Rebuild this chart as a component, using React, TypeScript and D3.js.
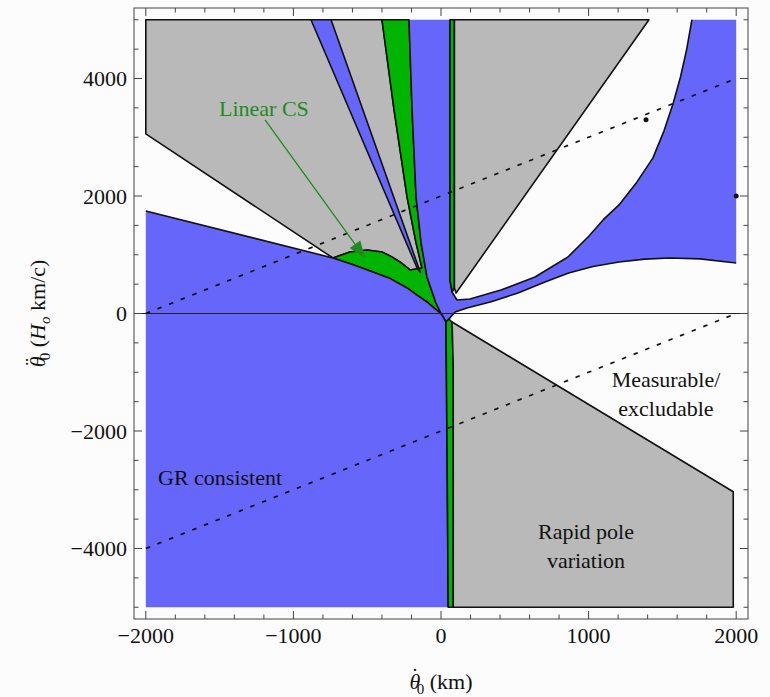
import React from 'react';
import * as d3 from 'd3';

type Pt = [number, number];

// region outlines (x: theta-dot in km, y: theta-ddot in Ho km/c)
const grayUpperLeft: Pt[] = [
  [-2000, 5000], [-400, 5000], [-318, 3467], [-230, 1985], [-169, 1201], [-129, 775],
  [-210, 741], [-278, 877], [-330, 960], [-400, 1048], [-501, 1082], [-617, 1048], [-732, 945], [-2000, 3058],
];

const greenBandBump: Pt[] = [
  [-400, 5000], [-217, 5000], [-196, 3467], [-169, 1985], [-135, 1201], [-95, 622], [-34, 179], [0, 0],
  [-40, 80], [-95, 196], [-160, 310], [-230, 435], [-340, 590], [-461, 707], [-600, 835], [-732, 945],
  [-617, 1048], [-501, 1082], [-400, 1048], [-330, 960], [-278, 877], [-210, 741], [-129, 775],
  [-169, 1201], [-230, 1985], [-318, 3467],
];

const blueWedge: Pt[] = [[-881, 5000], [-745, 5000], [-140, 700], [-162, 775]];

const blueColumnArm: Pt[] = [
  [-217, 5000], [61, 5000], [61, 570], [75, 366], [108, 230], [196, 247], [406, 400], [637, 622],
  [860, 962], [1003, 1320], [1098, 1593], [1206, 1848], [1328, 2240], [1436, 2649], [1511, 3109],
  [1572, 3569], [1623, 4029], [1664, 4489], [1700, 5000],
  [2000, 5000], [2000, 860], [1755, 930], [1551, 945], [1380, 925], [1206, 877], [1030, 800], [865, 690],
  [700, 530], [522, 349], [340, 200], [176, 94], [95, 26], [54, -94], [34, -145], [0, 0],
  [-34, 179], [-95, 622], [-135, 1201], [-169, 1985], [-196, 3467],
];

const greenThinTop: Pt[] = [[61, 5000], [91, 5000], [91, 434], [75, 366], [61, 570]];

const grayUpperRight: Pt[] = [[91, 5000], [1409, 5000], [102, 349], [91, 434]];

const blueLower: Pt[] = [
  [-2000, 1746], [-732, 945], [-600, 835], [-461, 707], [-340, 590], [-230, 435], [-160, 310], [-95, 196],
  [-40, 80], [0, 0], [34, -145], [34, -225], [41, -2325], [49, -5000], [-2000, -5000],
];

const greenThinLower: Pt[] = [
  [34, -145], [54, -94], [72, -140], [76, -225], [83, -908], [83, -5000], [49, -5000], [41, -2325], [34, -225],
];

const grayLowerRight: Pt[] = [[72, -140], [1980, -3035], [1980, -5000], [83, -5000], [83, -908], [76, -225]];

const guideLines: Pt[][] = [
  [[-2000, 0], [2000, 4000]],
  [[-2000, -4000], [2000, 0]],
];

const strayDots: Pt[] = [[1389, 3296], [2000, 2002]];

const arrowFrom: Pt = [-1192, 3296];
const arrowTo: Pt = [-515, 945];

const xMajor = [-2000, -1000, 0, 1000, 2000];
const yMajor = [-4000, -2000, 0, 2000, 4000];

const GRAY = '#b9b9b9';
const BLUE = '#6666fa';
const GREEN = '#00b400';
const TEXT_GREEN = '#1f8a1f';
const FONT = "'Liberation Serif', 'Times New Roman', serif";

const regions = [
  { pts: grayUpperLeft, fill: GRAY, open: false },
  { pts: greenBandBump, fill: GREEN, open: false },
  { pts: blueWedge, fill: BLUE, open: false },
  { pts: blueColumnArm, fill: BLUE, open: true },
  { pts: greenThinTop, fill: GREEN, open: false },
  { pts: grayUpperRight, fill: GRAY, open: false },
  { pts: blueLower, fill: BLUE, open: true },
  { pts: greenThinLower, fill: GREEN, open: false },
  { pts: grayLowerRight, fill: GRAY, open: false },
];

const fmt = (v: number) => (v < 0 ? `\u2212${Math.abs(v)}` : `${v}`);

export default function App() {
  const width = 770;
  const height = 697;

  const x = d3.scaleLinear().domain([-2080, 2080]).range([134, 748]);
  const y = d3.scaleLinear().domain([-5200, 5200]).range([619, 8]);

  const area = d3.line<Pt>().x(d => x(d[0])).y(d => y(d[1])).curve(d3.curveLinearClosed);
  const line = d3.line<Pt>().x(d => x(d[0])).y(d => y(d[1]));

  // blue areas have no outline where they touch the plot edge
  const onEdge = (a: Pt, b: Pt) =>
    (a[0] === b[0] && Math.abs(a[0]) >= 2000) || (a[1] === b[1] && Math.abs(a[1]) >= 5000);

  const outline = (pts: Pt[], open: boolean) => {
    if (!open) return area(pts) as string;
    let d = '';
    pts.forEach((p, i) => {
      const q = pts[(i + 1) % pts.length];
      if (onEdge(p, q)) return;
      d += `M${x(p[0])},${y(p[1])}L${x(q[0])},${y(q[1])}`;
    });
    return d;
  };

  const xMinor = d3.range(-2000, 2001, 200);
  const yMinor = d3.range(-5000, 5001, 500);
  const [x0, x1] = x.range();
  const [yb, yt] = y.range();

  // arrowhead
  const ax0 = x(arrowFrom[0]), ay0 = y(arrowFrom[1]);
  const ax1 = x(arrowTo[0]), ay1 = y(arrowTo[1]);
  const ang = Math.atan2(ay1 - ay0, ax1 - ax0);
  const hl = 17, hw = 6.5;
  const bx = ax1 - hl * Math.cos(ang), by = ay1 - hl * Math.sin(ang);
  const head = `M${ax1},${ay1}L${bx + hw * Math.sin(ang)},${by - hw * Math.cos(ang)}L${bx - hw * Math.sin(ang)},${by + hw * Math.cos(ang)}Z`;

  return (
    <svg width={width} height={height} style={{ position: 'absolute', left: 0, top: 0 }} fontFamily={FONT}>
      <rect width={width} height={height} fill="#fcfcfc" />

      {regions.map((r, i) => (
        <g key={i}>
          <path d={area(r.pts) as string} fill={r.fill} stroke="none" />
          <path d={outline(r.pts, r.open)} fill="none" stroke="#111" strokeWidth={1.6} strokeLinejoin="round" />
        </g>
      ))}

      {/* y = 0 axis */}
      <line x1={x0} x2={x1} y1={y(0)} y2={y(0)} stroke="#222" strokeWidth={1} />

      {guideLines.map((l, i) => (
        <path key={i} d={line(l) as string} fill="none" stroke="#111" strokeWidth={1.7} strokeDasharray="4.5 8" />
      ))}

      {strayDots.map((p, i) => (
        <circle key={i} cx={x(p[0])} cy={y(p[1])} r={2.5} fill="#111" />
      ))}

      {/* Linear CS annotation */}
      <line x1={ax0} y1={ay0} x2={bx} y2={by} stroke={TEXT_GREEN} strokeWidth={1.3} />
      <path d={head} fill={TEXT_GREEN} />
      <text x={219} y={116} fontSize={22} fill={TEXT_GREEN}>Linear CS</text>

      <text x={666} y={387} fontSize={22} textAnchor="middle" fill="#111">Measurable/</text>
      <text x={666} y={416} fontSize={22} textAnchor="middle" fill="#111">excludable</text>
      <text x={586} y={539} fontSize={22} textAnchor="middle" fill="#111">Rapid pole</text>
      <text x={586} y={568} fontSize={22} textAnchor="middle" fill="#111">variation</text>
      <text x={158} y={485} fontSize={22} fill="#111">GR consistent</text>

      {/* frame */}
      <rect x={x0} y={yt} width={x1 - x0} height={yb - yt} fill="none" stroke="#444" strokeWidth={1} />
      {xMinor.map(v => {
        const len = xMajor.includes(v) ? 8 : 4.5;
        return (
          <g key={'xt' + v} stroke="#444" strokeWidth={1}>
            <line x1={x(v)} x2={x(v)} y1={yb} y2={yb - len} />
            <line x1={x(v)} x2={x(v)} y1={yt} y2={yt + len} />
          </g>
        );
      })}
      {yMinor.map(v => {
        const len = yMajor.includes(v) ? 8 : 4.5;
        return (
          <g key={'yt' + v} stroke="#444" strokeWidth={1}>
            <line x1={x0} x2={x0 + len} y1={y(v)} y2={y(v)} />
            <line x1={x1} x2={x1 - len} y1={y(v)} y2={y(v)} />
          </g>
        );
      })}
      {xMajor.map(v => (
        <text key={'xl' + v} x={x(v)} y={643} fontSize={22} textAnchor="middle" fill="#111">{fmt(v)}</text>
      ))}
      {yMajor.map(v => (
        <text key={'yl' + v} x={127} y={y(v) + 7.5} fontSize={22} textAnchor="end" fill="#111">{fmt(v)}</text>
      ))}

      {/* axis titles */}
      <text x={441} y={689} fontSize={22} textAnchor="middle" fill="#111">
        <tspan fontStyle="italic">θ</tspan>
        <tspan dx={-9} dy={-6}>˙</tspan>
        <tspan dx={-2} dy={11} fontSize={15}>0</tspan>
        <tspan dy={-5}> (km)</tspan>
      </text>
      <text transform={`translate(45,${y(0)}) rotate(-90)`} fontSize={22} textAnchor="middle" fill="#111">
        <tspan fontStyle="italic">θ</tspan>
        <tspan dx={-9} dy={-6}>¨</tspan>
        <tspan dx={-2} dy={11} fontSize={15}>0</tspan>
        <tspan dy={-5}> (</tspan>
        <tspan fontStyle="italic">H</tspan>
        <tspan fontStyle="italic" fontSize={15} dy={5}>o</tspan>
        <tspan dy={-5}> km/c)</tspan>
      </text>
    </svg>
  );
}
